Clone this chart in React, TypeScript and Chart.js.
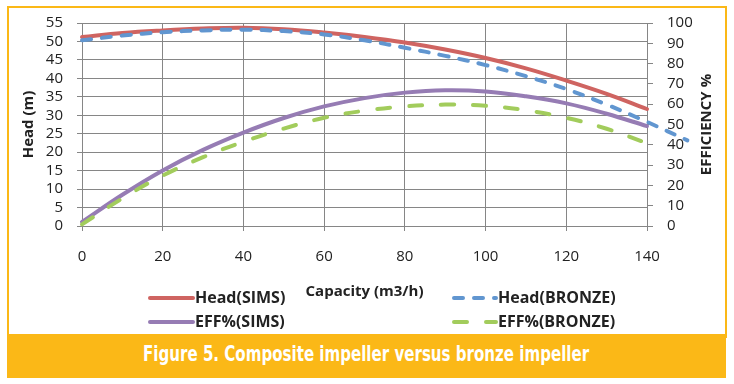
import React, { useEffect, useLayoutEffect, useRef } from "react";
import { Chart, registerables } from "chart.js";

Chart.register(...registerables);

// ---- data ----
const capacity = [0, 10, 20, 30, 40, 50, 60, 70, 80, 90, 100, 110, 120, 130, 140];
const capacityBronzeHead = [0, 10, 20, 30, 40, 50, 60, 70, 80, 90, 100, 110, 120, 130, 140, 150];
const headSims = [51.2, 52.3, 53.0, 53.5, 53.7, 53.3, 52.4, 51.2, 49.7, 47.8, 45.5, 42.7, 39.4, 35.8, 31.7];
const headBronze = [50.3, 51.6, 52.5, 53.0, 53.2, 52.8, 51.9, 50.3, 48.3, 46.1, 43.6, 40.6, 37.1, 32.9, 28.2, 23.2];
const effSims = [2.0, 15.4, 27.4, 37.5, 46.0, 53.2, 58.9, 63.0, 65.7, 66.9, 66.3, 63.9, 60.4, 55.3, 49.2];
const effBronze = [0.8, 13.6, 24.8, 33.9, 41.5, 48.0, 53.3, 56.8, 58.9, 59.8, 59.2, 57.0, 53.3, 47.9, 40.8];

const seriesLabels = ["Head(SIMS)", "Head(BRONZE)", "EFF%(SIMS)", "EFF%(BRONZE)"];
const capacityTicks = [0, 20, 40, 60, 80, 100, 120, 140];
const headTicks = [0, 5, 10, 15, 20, 25, 30, 35, 40, 45, 50, 55];
const effTicks = [0, 10, 20, 30, 40, 50, 60, 70, 80, 90, 100];

const xTitle = "Capacity (m3/h)";
const yTitle = "Head (m)";
const y1Title = "EFFICIENCY %";
const caption = "Figure 5. Composite impeller versus bronze impeller";

// ---- styles ----
const FONT = "'Open Sans', 'DejaVu Sans', sans-serif";
const GRID = "#868686";
const TEXT = "#222222";
const RED = "#cf6461";
const BLUE = "#6196d0";
const PURPLE = "#967cb4";
const GREEN = "#a2cc5c";
const GOLD = "#fbb817";

const toPoints = (xs: number[], ys: number[]) => xs.map((x, i) => ({ x, y: ys[i] }));
const step = (arr: number[]) => arr[1] - arr[0];

const legendPlugin = {
  id: "customLegend",
  afterDraw(chart: any) {
    const ctx = chart.ctx as CanvasRenderingContext2D;
    const slots = [
      { x0: 150, x1: 193, y: 298 },
      { x0: 454, x1: 496, y: 298 },
      { x0: 150, x1: 193, y: 322 },
      { x0: 454, x1: 496, y: 322 },
    ];
    chart.data.datasets.forEach((ds: any, i: number) => {
      const s = slots[i];
      ctx.save();
      ctx.strokeStyle = ds.borderColor;
      ctx.lineWidth = 4;
      ctx.lineCap = "round";
      ctx.setLineDash(ds.borderDash || []);
      ctx.beginPath();
      ctx.moveTo(s.x0, s.y);
      ctx.lineTo(s.x1, s.y);
      ctx.stroke();
      ctx.setLineDash([]);
      ctx.fillStyle = TEXT;
      ctx.font = `bold 16px ${FONT}`;
      ctx.textBaseline = "middle";
      ctx.textAlign = "left";
      ctx.fillText(ds.label, s.x1 + 2, s.y);
      ctx.restore();
    });
    // right axis title (reads bottom-to-top)
    const area = chart.chartArea;
    ctx.save();
    ctx.translate(707, (area.top + area.bottom) / 2);
    ctx.rotate(-Math.PI / 2);
    ctx.fillStyle = TEXT;
    ctx.font = `bold 15px ${FONT}`;
    ctx.textAlign = "center";
    ctx.textBaseline = "middle";
    ctx.fillText(y1Title, 0, 0);
    ctx.restore();
  },
};

export default function App() {
  const canvasRef = useRef<HTMLCanvasElement | null>(null);
  const capRef = useRef<HTMLSpanElement | null>(null);

  useLayoutEffect(() => {
    const el = capRef.current;
    if (!el) return;
    el.style.transform = "none";
    const w = el.offsetWidth;
    if (w > 0) el.style.transform = `scaleX(${446 / w})`;
  }, []);

  useEffect(() => {
    if (!canvasRef.current) return;
    const chart = new Chart(canvasRef.current, {
      type: "line",
      data: {
        datasets: [
          {
            label: seriesLabels[0],
            data: toPoints(capacity, headSims),
            yAxisID: "y",
            borderColor: RED,
            clip: false,
            order: 4,
          },
          {
            label: seriesLabels[1],
            data: toPoints(capacityBronzeHead, headBronze),
            yAxisID: "y",
            borderColor: BLUE,
            borderDash: [9, 11],
            clip: false,
            order: 3,
          },
          {
            label: seriesLabels[2],
            data: toPoints(capacity, effSims),
            yAxisID: "y1",
            borderColor: PURPLE,
            clip: false,
            order: 2,
          },
          {
            label: seriesLabels[3],
            data: toPoints(capacity, effBronze),
            yAxisID: "y1",
            borderColor: GREEN,
            borderDash: [13, 19],
            clip: false,
            order: 1,
          },
        ] as any,
      },
      options: {
        animation: false,
        responsive: false,
        maintainAspectRatio: false,
        layout: { padding: { top: 17, left: 0, right: 0, bottom: 0 } },
        elements: {
          line: { borderWidth: 4, tension: 0.4, capBezierPoints: false, borderCapStyle: "round", fill: false },
          point: { radius: 0, hoverRadius: 0 },
        },
        plugins: { legend: { display: false }, tooltip: { enabled: false } },
        scales: {
          x: {
            type: "linear",
            afterDataLimits: (s: any) => {
              s.min = capacityTicks[0];
              s.max = capacityTicks[capacityTicks.length - 1];
            },
            afterFit: (s: any) => {
              s.height = 108;
            },
            ticks: {
              stepSize: step(capacityTicks),
              autoSkip: false,
              color: TEXT,
              font: { family: FONT, size: 15 },
              padding: 17,
              maxRotation: 0,
            },
            grid: { color: GRID, lineWidth: 1, tickLength: 5 },
            border: { color: GRID },
            title: {
              display: true,
              text: xTitle,
              color: TEXT,
              font: { family: FONT, size: 15, weight: "bold" },
              padding: { top: 0, bottom: 33 },
            },
          },
          y: {
            type: "linear",
            position: "left",
            min: headTicks[0],
            max: headTicks[headTicks.length - 1],
            afterFit: (s: any) => {
              s.width = 82;
            },
            ticks: {
              stepSize: step(headTicks),
              autoSkip: false,
              color: TEXT,
              font: { family: FONT, size: 15 },
              padding: 14,
            },
            grid: { color: GRID, lineWidth: 1, tickLength: 5 },
            border: { color: GRID },
            title: {
              display: true,
              text: yTitle,
              color: TEXT,
              font: { family: FONT, size: 15, weight: "bold" },
              padding: { top: 20, bottom: 0 },
            },
          },
          y1: {
            type: "linear",
            position: "right",
            min: effTicks[0],
            max: effTicks[effTicks.length - 1],
            afterFit: (s: any) => {
              s.width = 87;
            },
            ticks: {
              stepSize: step(effTicks),
              autoSkip: false,
              color: TEXT,
              font: { family: FONT, size: 15 },
              padding: 14,
            },
            grid: { color: GRID, lineWidth: 1, tickLength: 6, drawOnChartArea: false },
            border: { color: GRID },
            title: { display: false },
          },
        },
      } as any,
      plugins: [legendPlugin],
    });
    return () => chart.destroy();
  }, []);

  return (
    <div style={{ position: "absolute", left: 0, top: 0, width: 734, height: 384, background: "#ffffff" }}>
      <div
        style={{
          position: "absolute",
          left: 7,
          top: 6,
          width: 716,
          height: 330,
          borderTop: `2px solid ${GOLD}`,
          borderLeft: `2px solid ${GOLD}`,
          borderRight: `2px solid ${GOLD}`,
        }}
      />
      <canvas
        ref={canvasRef}
        width={734}
        height={334}
        style={{ position: "absolute", left: 0, top: 0, width: 734, height: 334 }}
      />
      <div
        style={{
          position: "absolute",
          left: 7,
          top: 334,
          width: 719,
          height: 44,
          background: GOLD,
          display: "flex",
          alignItems: "center",
          justifyContent: "center",
          overflow: "hidden",
        }}
      >
        <span
          ref={capRef}
          style={{
            display: "inline-block",
            whiteSpace: "nowrap",
            color: "#ffffff",
            fontFamily: "'Liberation Sans Narrow', 'DejaVu Sans Condensed', 'DejaVu Sans', sans-serif",
            fontStretch: "condensed",
            fontWeight: "bold",
            fontSize: 22,
            lineHeight: "26px",
            marginTop: -5,
            transformOrigin: "center center",
          }}
        >
          {caption}
        </span>
      </div>
    </div>
  );
}
